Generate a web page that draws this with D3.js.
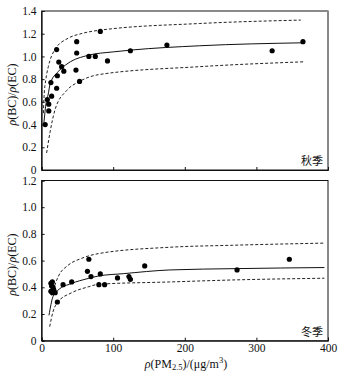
<!DOCTYPE html>
<html><head><meta charset="utf-8">
<script src="https://cdn.jsdelivr.net/npm/d3@7"></script>
<style>body{margin:0;background:#fff}svg{display:block}</style>
</head><body>
<script>
// ---- data ----
const autumnPM = [5, 8, 10, 10, 14, 13, 21, 21, 22, 24, 28, 31, 48, 49, 49, 53, 66, 75, 82, 92, 124, 175, 322, 365];
const autumnRatio = [0.40, 0.62, 0.58, 0.52, 0.65, 0.77, 1.06, 0.72, 0.83, 0.95, 0.91, 0.87, 0.88, 1.13, 1.03, 0.78, 1.00, 1.00, 1.22, 0.96, 1.05, 1.10, 1.05, 1.13];
const winterPM = [13, 14, 15, 13, 15, 17, 19, 16, 22, 30, 42, 64, 66, 69, 80, 82, 88, 106, 122, 124, 144, 273, 346];
const winterRatio = [0.43, 0.41, 0.44, 0.37, 0.36, 0.38, 0.36, 0.40, 0.29, 0.42, 0.44, 0.52, 0.61, 0.48, 0.42, 0.50, 0.42, 0.47, 0.48, 0.46, 0.56, 0.53, 0.61];

const autumnFitX = [3, 6.5, 9, 12, 23, 37, 65, 100, 125, 221, 365];
const autumnFitY = [0.40, 0.60, 0.66, 0.76, 0.865, 0.94, 1.01, 1.04, 1.056, 1.094, 1.12];
const autumnUpX = [2.5, 3.4, 6, 9.4, 18.5, 37, 55, 80, 221, 362];
const autumnUpY = [0.50, 0.645, 0.80, 0.91, 1.06, 1.16, 1.20, 1.23, 1.29, 1.32];
const autumnLoX = [7, 11.7, 18.7, 35, 53, 80, 221, 368];
const autumnLoY = [0.15, 0.33, 0.53, 0.70, 0.78, 0.84, 0.91, 0.953];

const winterFitX = [10.3, 15.9, 22.9, 41.5, 65, 80, 114, 179, 273, 395];
const winterFitY = [0.19, 0.33, 0.378, 0.428, 0.466, 0.485, 0.502, 0.53, 0.54, 0.548];
const winterUpX = [14, 23, 37, 55, 79, 179, 267, 395];
const winterUpY = [0.34, 0.478, 0.565, 0.615, 0.652, 0.70, 0.715, 0.731];
const winterLoX = [11.3, 15.9, 22.9, 41.5, 65, 80, 179, 267, 395];
const winterLoY = [0.105, 0.216, 0.29, 0.358, 0.403, 0.423, 0.44, 0.455, 0.468];

const xTicks = [0, 100, 200, 300, 400];
const autumnYTicks = [0, 0.2, 0.4, 0.6, 0.8, 1.0, 1.2, 1.4];
const winterYTicks = [0, 0.2, 0.4, 0.6, 0.8, 1.0, 1.2];
const autumnLabel = "秋季";
const winterLabel = "冬季";

// ---- drawing ----
const W = 345, H = 378;
const svg = d3.select("body").append("svg").attr("width", W).attr("height", H);
const serif = "'Liberation Serif','Times New Roman',serif";
const cjk = "'Noto Sans CJK SC',sans-serif";

const x = d3.scaleLinear().domain([0, 400]).range([41.6, 328]);

function zip(a, b) { return a.map((v, i) => [v, b[i]]); }

function panel(y, yTicks, showXLabels, pm, ratio, fit, up, lo, label, topGray) {
  const g = svg.append("g");
  const [y0, y1] = y.range();
  // frame
  g.append("rect").attr("x", x.range()[0]).attr("y", y1).attr("width", x.range()[1] - x.range()[0]).attr("height", y0 - y1)
    .attr("fill", "none").attr("stroke", "#111").attr("stroke-width", 1);
  if (topGray) {
    g.append("line").attr("x1", x.range()[0]).attr("x2", x.range()[1]).attr("y1", y1).attr("y2", y1)
      .attr("stroke", "#8a8a8a").attr("stroke-width", 2.2);
  }
  // axes
  const ax = g.append("g").attr("transform", `translate(0,${y0})`)
    .call(d3.axisBottom(x).tickValues(xTicks).tickSize(-3).tickPadding(4)
      .tickFormat(showXLabels ? d3.format("d") : () => ""));
  const ay = g.append("g").attr("transform", `translate(${x.range()[0]},0)`)
    .call(d3.axisLeft(y).tickValues(yTicks).tickSize(-3).tickPadding(5)
      .tickFormat(d => d === 0 ? "0" : d3.format(".1f")(d)));
  [ax, ay].forEach(a => {
    a.select(".domain").attr("stroke", "#111");
    a.selectAll(".tick line").attr("stroke", "#111");
    a.selectAll("text").attr("font-family", serif).attr("font-size", 11.5).attr("fill", "#111");
  });
  ax.selectAll(".tick text").attr("dy", "0.65em");

  const line = d3.line().x(d => x(d[0])).y(d => y(d[1])).curve(d3.curveMonotoneX);
  g.append("path").attr("d", line(fit)).attr("fill", "none").attr("stroke", "#111").attr("stroke-width", 1);
  g.append("path").attr("d", line(up)).attr("fill", "none").attr("stroke", "#222").attr("stroke-width", 1).attr("stroke-dasharray", "3,2");
  g.append("path").attr("d", line(lo)).attr("fill", "none").attr("stroke", "#222").attr("stroke-width", 1).attr("stroke-dasharray", "3,2");

  g.selectAll("circle.pt").data(zip(pm, ratio)).join("circle").attr("class", "pt")
    .attr("cx", d => x(d[0])).attr("cy", d => y(d[1])).attr("r", 2.6).attr("fill", "#000");

  g.append("text").attr("x", 323).attr("y", y0 - 5).attr("text-anchor", "end")
    .attr("font-family", cjk).attr("font-size", 11).attr("fill", "#111").text(label);

  // y title
  const cy = (y0 + y1) / 2 + 4;
  const t = g.append("text").attr("transform", `translate(16,${cy}) rotate(-90)`).attr("text-anchor", "middle")
    .attr("font-family", serif).attr("font-size", 12).attr("fill", "#111");
  t.append("tspan").attr("font-style", "italic").text("ρ");
  t.append("tspan").text("(BC)/");
  t.append("tspan").attr("font-style", "italic").text("ρ");
  t.append("tspan").text("(EC)");
}

const yA = d3.scaleLinear().domain([0, 1.4]).range([170, 11]);
const yW = d3.scaleLinear().domain([0, 1.2]).range([340.7, 180.5]);

panel(yA, autumnYTicks, false, autumnPM, autumnRatio, zip(autumnFitX, autumnFitY), zip(autumnUpX, autumnUpY), zip(autumnLoX, autumnLoY), autumnLabel, true);
panel(yW, winterYTicks, true, winterPM, winterRatio, zip(winterFitX, winterFitY), zip(winterUpX, winterUpY), zip(winterLoX, winterLoY), winterLabel, false);

// x title
const xt = svg.append("text").attr("x", 186).attr("y", 368).attr("text-anchor", "middle")
  .attr("font-family", serif).attr("font-size", 12).attr("fill", "#111");
xt.append("tspan").attr("font-style", "italic").text("ρ");
xt.append("tspan").text("(PM");
xt.append("tspan").attr("font-size", 8.5).attr("dy", 2).text("2.5");
xt.append("tspan").attr("dy", -2).text(")/(μg/m");
xt.append("tspan").attr("font-size", 8.5).attr("dy", -5).text("3");
xt.append("tspan").attr("dy", 5).text(")");
</script>
</body></html>
